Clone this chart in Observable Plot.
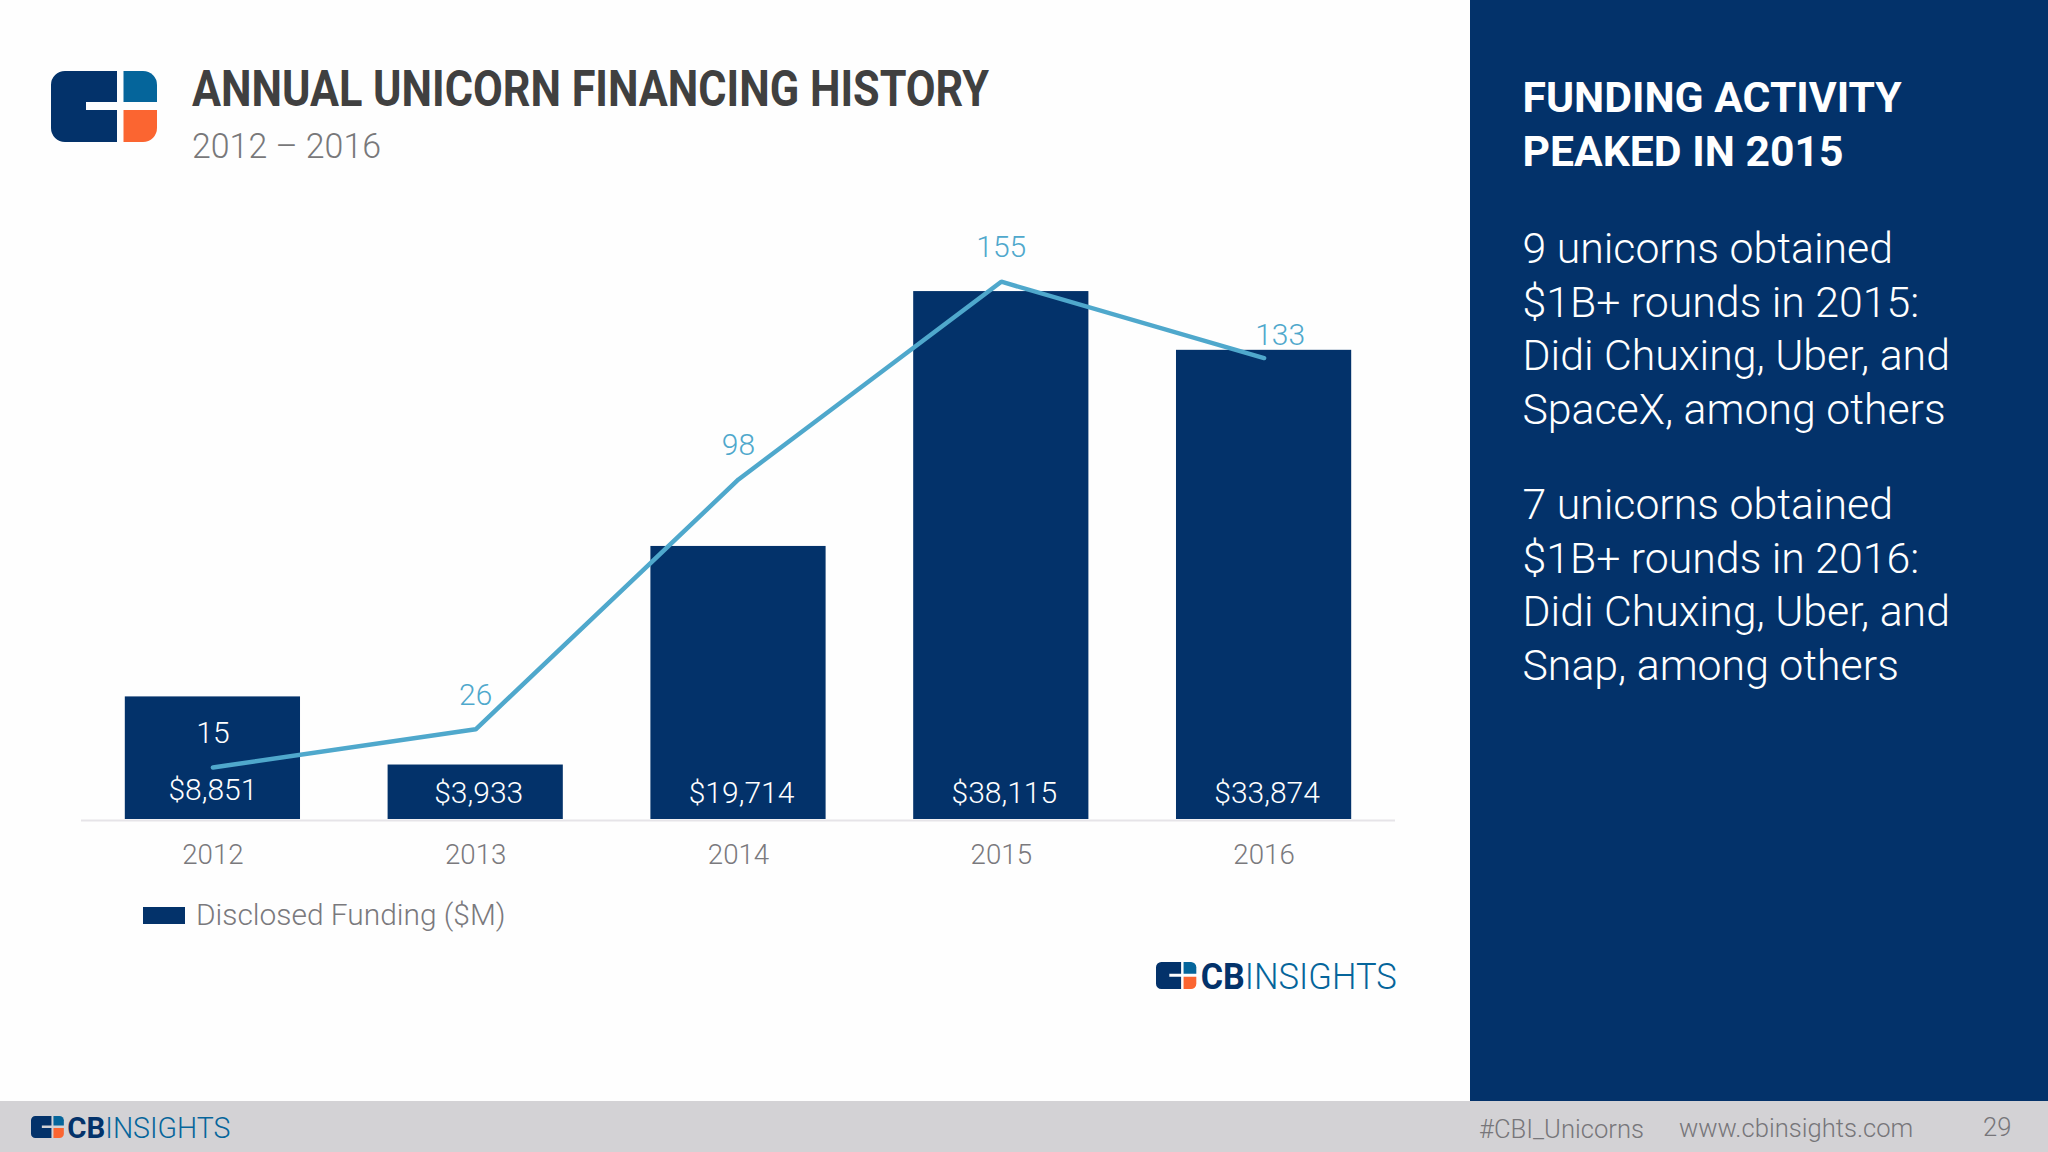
<!DOCTYPE html>
<html><head><meta charset="utf-8">
<script src="https://cdn.jsdelivr.net/npm/d3@7"></script>
<script src="https://cdn.jsdelivr.net/npm/@observablehq/plot@0.6"></script>
<style>
html,body{margin:0;padding:0;width:2048px;height:1152px;overflow:hidden;background:#fff;font-family:Roboto,sans-serif}
#page{position:relative;width:2048px;height:1152px;background:#fefefe}
.abs{position:absolute;white-space:nowrap}
#panel{position:absolute;left:1470px;top:0;width:578px;height:1101px;background:#03326a;color:#fff}
#footer{position:absolute;left:0;top:1101px;width:2048px;height:51px;background:#d3d2d5}
.line{position:absolute;left:52.5px;white-space:nowrap;line-height:54px;height:54px}
.b{font-size:42.8px;font-weight:300}
.h{font-size:42.7px;font-weight:700}
.ft{position:absolute;top:1111px;line-height:36px;font-size:25.6px;font-weight:300;color:#77767a;white-space:nowrap}
svg.art{position:absolute;overflow:visible}
#chart{position:absolute;left:0;top:0}
</style></head><body>
<div id="page">
  <div id="chart"></div>
  <svg class="art" id="titleSvg" style="left:0;top:0" width="1100" height="170">
    <text x="192" y="106" font-family="Roboto" font-weight="700" font-size="50" fill="#404040" textLength="797" lengthAdjust="spacingAndGlyphs">ANNUAL UNICORN FINANCING HISTORY</text>
    <text x="192" y="158" font-family="Roboto" font-weight="300" font-size="34.5" fill="#78787a" textLength="189" lengthAdjust="spacingAndGlyphs">2012 – 2016</text>
  </svg>
  <div id="legendSwatch" class="abs" style="left:143px;top:907px;width:42px;height:17px;background:#03326a"></div>
  <div class="abs" style="left:196px;top:892.5px;line-height:44px;font-size:29.9px;font-weight:300;color:#7a797d">Disclosed Funding ($M)</div>
  <div id="panel">
    <div class="line h" style="top:70px">FUNDING ACTIVITY</div>
    <div class="line h" style="top:123.5px">PEAKED IN 2015</div>
    <div class="line b" style="top:221px">9 unicorns obtained</div>
    <div class="line b" style="top:275px">$1B+ rounds in 2015:</div>
    <div class="line b" style="top:328px">Didi Chuxing, Uber, and</div>
    <div class="line b" style="top:382px">SpaceX, among others</div>
    <div class="line b" style="top:477px">7 unicorns obtained</div>
    <div class="line b" style="top:531px">$1B+ rounds in 2016:</div>
    <div class="line b" style="top:584px">Didi Chuxing, Uber, and</div>
    <div class="line b" style="top:638px">Snap, among others</div>
  </div>
  <div id="footer"></div>
  <div class="ft" style="left:1479px">#CBI_Unicorns</div>
  <div class="ft" style="left:1679px;top:1109.5px">www.cbinsights.com</div>
  <div class="ft" style="left:1983px;top:1109px">29</div>
</div>
<script>
const years = ["2012","2013","2014","2015","2016"];
const funding = [8851,3933,19714,38115,33874];
const unicornRounds = [15,26,98,155,133];
const navy = "#03326a", teal = "#4fa8cc", grey = "#7a797d";
const font = "Roboto, sans-serif";
// The deal-count line shares the frame with the bars: one deal is drawn at this many $M.
const dollarsPerRound = 250.5;
const rows = years.map((year,i)=>({year, funding:funding[i], rounds:unicornRounds[i], scaled:unicornRounds[i]*dollarsPerRound}));
const usd = d => "$" + d3.format(",")(d);

const chart = Plot.plot({
  width:1470, height:1100,
  marginLeft:81, marginRight:75, marginTop:0, marginBottom:281,
  style:{fontFamily:font, background:"transparent"},
  x:{domain:years, paddingInner:0.3333, paddingOuter:0.1667, align:0.5, round:false, label:null},
  y:{domain:[0,59130], axis:null},
  marks:[
    Plot.axisX({tickSize:0, tickPadding:25, fontSize:27.7, fontWeight:300, color:grey, label:null}),
    Plot.ruleY([0],{stroke:"#e6e4e8", strokeWidth:2, dy:1}),
    Plot.barY(rows,{x:"year", y:"funding", fill:navy}),
    Plot.line(rows,{x:"year", y:"scaled", stroke:teal, strokeWidth:4.5, strokeLinejoin:"miter", strokeLinecap:"round"}),
    Plot.text(rows.filter(d=>d.year==="2012"),{x:"year", y:0, text:d=>usd(d.funding), fill:"#fff", fontSize:30, fontWeight:300, dy:-29}),
    Plot.text(rows.filter(d=>d.year!=="2012"),{x:"year", y:0, text:d=>usd(d.funding), fill:"#fff", fontSize:30, fontWeight:300, dy:-26, dx:3}),
    Plot.text(rows.filter(d=>d.year==="2012"),{x:"year", y:"scaled", text:"rounds", fill:"#fff", fontSize:30, fontWeight:300, dy:-34}),
    Plot.text(rows.filter(d=>d.year!=="2012"&&d.year!=="2016"),{x:"year", y:"scaled", text:"rounds", fill:teal, fontSize:30, fontWeight:300, dy:-34}),
    Plot.text(rows.filter(d=>d.year==="2016"),{x:"year", y:"scaled", text:"rounds", fill:teal, fontSize:30, fontWeight:300, dy:-23, dx:16})
  ]
});
document.getElementById("chart").appendChild(chart);

function logo(x, y, h, cbW, insW, gap){
  const s = h/71, ns = "http://www.w3.org/2000/svg";
  const iconW = 106*s;
  const svg = document.createElementNS(ns,"svg");
  svg.setAttribute("class","art");
  svg.style.left = x+"px"; svg.style.top = y+"px";
  svg.setAttribute("width", iconW+gap+cbW+insW+4); svg.setAttribute("height", h);
  const r = 14*s;
  const part = (d,fill)=>{const p=document.createElementNS(ns,"path");p.setAttribute("d",d);p.setAttribute("fill",fill);svg.appendChild(p);};
  const X = v=>v*s;
  part(`M${X(66)} 0V${X(31)}H${X(35)}V${X(39)}H${X(66)}V${X(71)}H${r}A${r} ${r} 0 0 1 0 ${X(71)-r}V${r}A${r} ${r} 0 0 1 ${r} 0Z`, navy);
  part(`M${X(72.5)} 0H${X(106)-r}A${r} ${r} 0 0 1 ${X(106)} ${r}V${X(31)}H${X(72.5)}Z`, "#05659b");
  part(`M${X(72.5)} ${X(39)}H${X(106)}V${X(71)-r}A${r} ${r} 0 0 1 ${X(106)-r} ${X(71)}H${X(72.5)}Z`, "#fb6531");
  if(cbW){
    const fs = h*1.38;
    const t = (tx,txt,w,wt,fill)=>{const e=document.createElementNS(ns,"text");e.setAttribute("x",tx);e.setAttribute("y",h);e.setAttribute("font-family","Roboto");e.setAttribute("font-size",fs);e.setAttribute("font-weight",wt);e.setAttribute("fill",fill);e.setAttribute("textLength",w);e.setAttribute("lengthAdjust","spacingAndGlyphs");e.textContent=txt;svg.appendChild(e);};
    t(iconW+gap,"CB",cbW,700,navy);
    t(iconW+gap+cbW,"INSIGHTS",insW,300,"#05659b");
  }
  document.getElementById("page").appendChild(svg);
}
logo(51,71,71,0,0,0);
logo(1156,962,27,44,152,4.5);
logo(31,1116,22,38,125,3.5);
</script>
</body></html>
